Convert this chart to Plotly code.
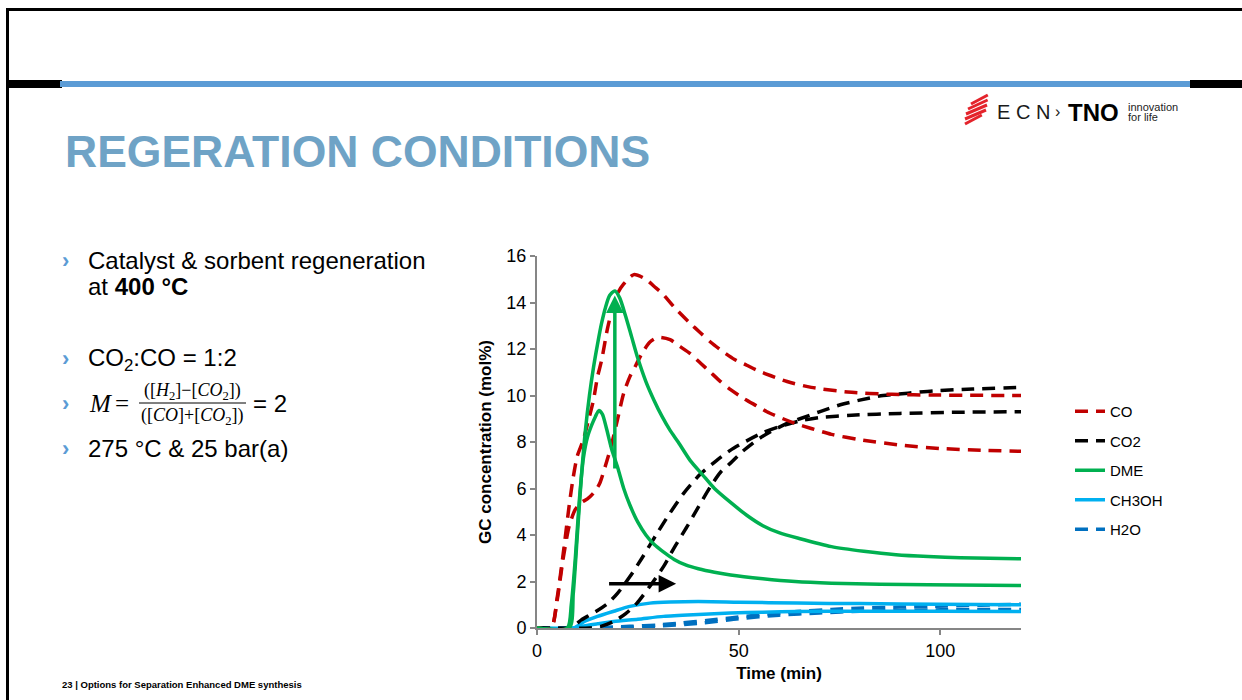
import plotly.graph_objects as go

W, H = 1242, 700

# ---------------- data ----------------
time_ticks = [0, 50, 100]
conc_ticks = [0, 2, 4, 6, 8, 10, 12, 14, 16]

co_a_t = [0, 3.5, 5, 6.5, 8, 9, 10, 11.5, 13, 14, 15, 16, 17.5, 18.5, 20, 21.5, 24, 27, 29, 31, 34, 38, 40.5, 43, 46, 49, 52, 55, 58, 62, 68, 77, 88, 98, 120]
co_a_v = [0, 0, 1.3, 3.2, 5.3, 6.5, 7.4, 8.1, 9.1, 9.8, 10.8, 11.5, 12.9, 13.6, 14.4, 14.8, 15.2, 15.0, 14.7, 14.4, 13.8, 13.1, 12.7, 12.3, 11.9, 11.55, 11.3, 11.05, 10.85, 10.6, 10.35, 10.15, 10.05, 10.02, 10.0]

co_b_t = [0, 3.5, 5, 6.5, 8, 9.5, 11, 12.5, 14, 15.5, 17, 18.5, 20, 21.5, 23, 24.5, 26, 28, 30, 33, 35.5, 38, 40.5, 43, 45.5, 48, 51, 54.5, 57, 61, 64, 68, 73, 80, 90, 100, 110, 120]
co_b_v = [0, 0, 1.2, 3.0, 4.4, 5.1, 5.4, 5.55, 5.8, 6.2, 7.0, 7.9, 9.0, 10.1, 10.8, 11.3, 11.8, 12.3, 12.5, 12.4, 12.1, 11.8, 11.4, 11.0, 10.6, 10.25, 9.9, 9.55, 9.3, 9.0, 8.8, 8.58, 8.33, 8.1, 7.87, 7.72, 7.65, 7.6]

co2_a_t = [0, 8, 9.5, 11, 13, 15, 17.5, 20, 23, 26, 29.8, 33, 36.4, 40.4, 44.5, 48, 52, 56, 60, 65, 70, 78, 90, 105, 120]
co2_a_v = [0, 0, 0.15, 0.35, 0.55, 0.75, 1.05, 1.5, 2.2, 3.0, 4.08, 4.95, 5.8, 6.6, 7.2, 7.65, 8.05, 8.4, 8.65, 8.9, 9.05, 9.15, 9.23, 9.28, 9.3]

co2_b_t = [0, 13, 16, 19, 22, 24.8, 28, 31.4, 34, 37.2, 40, 43, 45.5, 47.9, 51, 54.5, 58, 62, 65.2, 70, 75.2, 80, 85.8, 92, 98.2, 108, 120]
co2_b_v = [0, 0, 0.08, 0.28, 0.62, 1.07, 1.8, 2.65, 3.45, 4.36, 5.2, 6.08, 6.7, 7.08, 7.6, 8.08, 8.45, 8.8, 9.0, 9.3, 9.6, 9.8, 10.0, 10.1, 10.2, 10.28, 10.35]

dme_a_t = [0, 8, 9, 10, 11, 12, 13, 14, 15, 16, 17, 18, 19.3, 20.5, 22, 23.5, 25, 27, 29, 31, 33, 35, 38, 41, 44, 48, 52, 56, 60, 65, 73, 81, 89, 97, 105, 120]
dme_a_v = [0, 0, 1.5, 4.0, 6.5, 8.5, 10.0, 11.2, 12.2, 13.1, 13.8, 14.3, 14.5, 14.2, 13.4, 12.5, 11.6, 10.6, 9.8, 9.1, 8.5, 8.0, 7.2, 6.6, 6.0, 5.4, 4.85, 4.4, 4.1, 3.85, 3.5, 3.3, 3.15, 3.07, 3.02, 2.98]

dme_b_t = [0, 7.5, 8.5, 9.5, 10.5, 11.5, 12.5, 13.5, 14.5, 15.3, 16.2, 17.2, 18.5, 20, 21.5, 23, 25, 27, 29, 31.5, 34, 37, 40, 44, 48, 56, 64, 73, 85, 97, 120]
dme_b_v = [0, 0, 1.0, 3.0, 5.5, 7.3, 8.2, 8.7, 9.1, 9.35, 9.2, 8.6, 7.7, 6.9, 6.0, 5.3, 4.55, 4.0, 3.6, 3.25, 2.95, 2.7, 2.55, 2.4, 2.28, 2.12, 2.0, 1.93, 1.88, 1.86, 1.83]

ch3oh_a_t = [0, 9, 12, 15, 19, 23, 28, 33, 40, 50, 64.5, 80, 100, 120]
ch3oh_a_v = [0, 0, 0.3, 0.5, 0.72, 0.93, 1.07, 1.12, 1.14, 1.11, 1.07, 1.05, 1.02, 1.0]

ch3oh_b_t = [0, 9, 12, 15, 19, 25, 31.4, 40, 47.9, 56, 64.5, 80, 100, 120]
ch3oh_b_v = [0, 0, 0.1, 0.18, 0.28, 0.38, 0.5, 0.58, 0.64, 0.68, 0.71, 0.72, 0.72, 0.71]

h2o_a_t = [0, 9, 15, 23, 30, 35.5, 42, 47.9, 56, 64.5, 73, 81, 90, 97.5, 110, 120]
h2o_a_v = [0, 0, 0.02, 0.07, 0.13, 0.21, 0.32, 0.43, 0.58, 0.71, 0.8, 0.86, 0.9, 0.93, 0.98, 1.02]

h2o_b_t = [0, 10, 20, 30, 40, 50, 60, 70, 80, 100, 120]
h2o_b_v = [0, 0, 0.02, 0.08, 0.2, 0.4, 0.55, 0.65, 0.72, 0.78, 0.8]

# annotation arrows (time, concentration)
dme_arrow_from = (19.3, 6.8)
dme_arrow_to = (19.3, 14.3)
co2_arrow_from = (17.5, 1.9)
co2_arrow_to = (34.5, 1.9)

# ---------------- figure ----------------
RED, BLACK, GREEN, LBLUE, DBLUE = '#C00000', '#000000', '#00B050', '#00B0F0', '#0070C0'
DASH = '13px,8px'

fig = go.Figure()

def add(t, v, name, color, dash, show, rank):
    fig.add_trace(go.Scatter(
        x=t, y=v, mode='lines', name=name, legendgroup=name, showlegend=show,
        legendrank=rank, hoverinfo='skip',
        line=dict(color=color, width=3.5, dash=dash, shape='spline', smoothing=0.7)))

add(h2o_b_t, h2o_b_v, 'H2O', DBLUE, DASH, False, 5)
add(h2o_a_t, h2o_a_v, 'H2O', DBLUE, DASH, True, 5)
add(ch3oh_b_t, ch3oh_b_v, 'CH3OH', LBLUE, 'solid', False, 4)
add(ch3oh_a_t, ch3oh_a_v, 'CH3OH', LBLUE, 'solid', True, 4)
add(co2_a_t, co2_a_v, 'CO2', BLACK, DASH, True, 2)
add(co2_b_t, co2_b_v, 'CO2', BLACK, DASH, False, 2)
add(co_a_t, co_a_v, 'CO', RED, DASH, True, 1)
add(co_b_t, co_b_v, 'CO', RED, DASH, False, 1)
add(dme_a_t, dme_a_v, 'DME', GREEN, 'solid', True, 3)
add(dme_b_t, dme_b_v, 'DME', GREEN, 'solid', False, 3)

AXC = '#868686'
FONT = 'Liberation Sans, Arial, sans-serif'

# helpers: page pixel -> paper fraction
def X(p):
    return p / W

def Y(p):
    return 1 - p / H

fig.update_layout(
    width=W, height=H, margin=dict(l=0, r=0, t=0, b=0, autoexpand=False),
    paper_bgcolor='white', plot_bgcolor='white',
    font=dict(family=FONT, color='black'),
    showlegend=True,
    xaxis=dict(domain=[X(537), X(1021)], range=[0, 120], tickvals=time_ticks, automargin=False,
               showline=True, linecolor=AXC, linewidth=2, ticks='outside', ticklen=5,
               tickcolor=AXC, tickwidth=1.5, showgrid=False, zeroline=False,
               tickfont=dict(size=18, family=FONT, color='black'),
               title=dict(text='<b>Time (min)</b>', font=dict(size=17, family=FONT), standoff=8)),
    yaxis=dict(domain=[Y(628), Y(256)], range=[0, 16], tickvals=conc_ticks, automargin=False,
               showline=True, linecolor=AXC, linewidth=2, ticks='outside', ticklen=5,
               tickcolor=AXC, tickwidth=1.5, showgrid=False, zeroline=False,
               tickfont=dict(size=18, family=FONT, color='black'),
               title=dict(text='<b>GC concentration (mol%)</b>', font=dict(size=17, family=FONT), standoff=10)),
    legend=dict(x=X(1070), y=Y(395), xanchor='left', yanchor='top',
                font=dict(size=15, family=FONT), tracegroupgap=7, bgcolor='rgba(0,0,0,0)'),
)

# arrows
fig.add_annotation(x=dme_arrow_to[0], y=dme_arrow_to[1], ax=dme_arrow_from[0], ay=dme_arrow_from[1],
                   xref='x', yref='y', axref='x', ayref='y', text='', showarrow=True,
                   arrowhead=2, arrowsize=1, arrowwidth=3.5, arrowcolor=GREEN, standoff=0)
fig.add_annotation(x=co2_arrow_to[0], y=co2_arrow_to[1], ax=co2_arrow_from[0], ay=co2_arrow_from[1],
                   xref='x', yref='y', axref='x', ayref='y', text='', showarrow=True,
                   arrowhead=2, arrowsize=1, arrowwidth=3.5, arrowcolor=BLACK, standoff=0)

# ---------------- slide decorations ----------------
def rect(x0, y0, x1, y1, color):
    fig.add_shape(type='rect', xref='paper', yref='paper', x0=X(x0), x1=X(x1), y0=Y(y1), y1=Y(y0),
                  fillcolor=color, line=dict(width=0), layer='below')

def line(x0, y0, x1, y1, color, w):
    fig.add_shape(type='line', xref='paper', yref='paper', x0=X(x0), x1=X(x1), y0=Y(y0), y1=Y(y1),
                  line=dict(color=color, width=w))

# border
rect(6, 8, W, 11, 'black')
rect(6, 8, 9, H, 'black')
# header bar
rect(9, 80, 62, 88, 'black')
rect(60, 81, 1192, 87, '#5B9BD5')
rect(1190, 80, W, 88, 'black')

def text(x, y, s, size, color='black', family=FONT, xanchor='left'):
    fig.add_annotation(x=X(x), y=Y(y), xref='paper', yref='paper', text=s, showarrow=False,
                       xanchor=xanchor, yanchor='middle', font=dict(size=size, color=color, family=family))

# title
text(63, 152, '<b>REGERATION CONDITIONS</b>', 44.5, color='#6FA3C6')

# logo
for i, (a, b) in enumerate([(0, 7), (0, 10), (1, 10), (3, 9), (6, 7)]):
    yb = 124 - i * 5
    line(965 + a, yb, 972 + a + b * 1.4, yb - 9, '#E4232B', 3)
text(995, 112, 'E C N', 20, color='#1a1a1a')
text(1053, 111, '›', 16, color='#1a1a1a')
text(1066, 112, '<b>TNO</b>', 24, color='black')
text(1126, 107, 'innovation', 11, color='#222222')
text(1126, 117, 'for life', 11, color='#222222')

# bullets
BUL = '#5B9BD5'
for yy in [260, 358, 403, 448]:
    text(60, yy, '<b>›</b>', 22, color=BUL)
text(86, 260, 'Catalyst & sorbent regeneration', 24)
text(86, 287, 'at <b>400 °C</b>', 24)
text(86, 359, 'CO<sub>2</sub>:CO = 1:2', 24)
SERIF = 'Liberation Serif, DejaVu Serif, serif'
text(87, 403, '<i>M</i>', 25, family=SERIF)
text(113, 403, '=', 25, family=SERIF)
text(192, 391, '([<i>H</i><sub>2</sub>]−[<i>CO</i><sub>2</sub>])', 18, family=SERIF, xanchor='center')
line(139, 403, 246, 403, 'black', 1)
text(192, 416, '([<i>CO</i>]+[<i>CO</i><sub>2</sub>])', 18, family=SERIF, xanchor='center')
text(251, 403, '= 2', 24)
text(86, 448, '275 °C & 25 bar(a)', 24)

# footer
text(60, 684, '<b>23 | Options for Separation Enhanced DME synthesis</b>', 9.5)

fig.write_html('out.html')
